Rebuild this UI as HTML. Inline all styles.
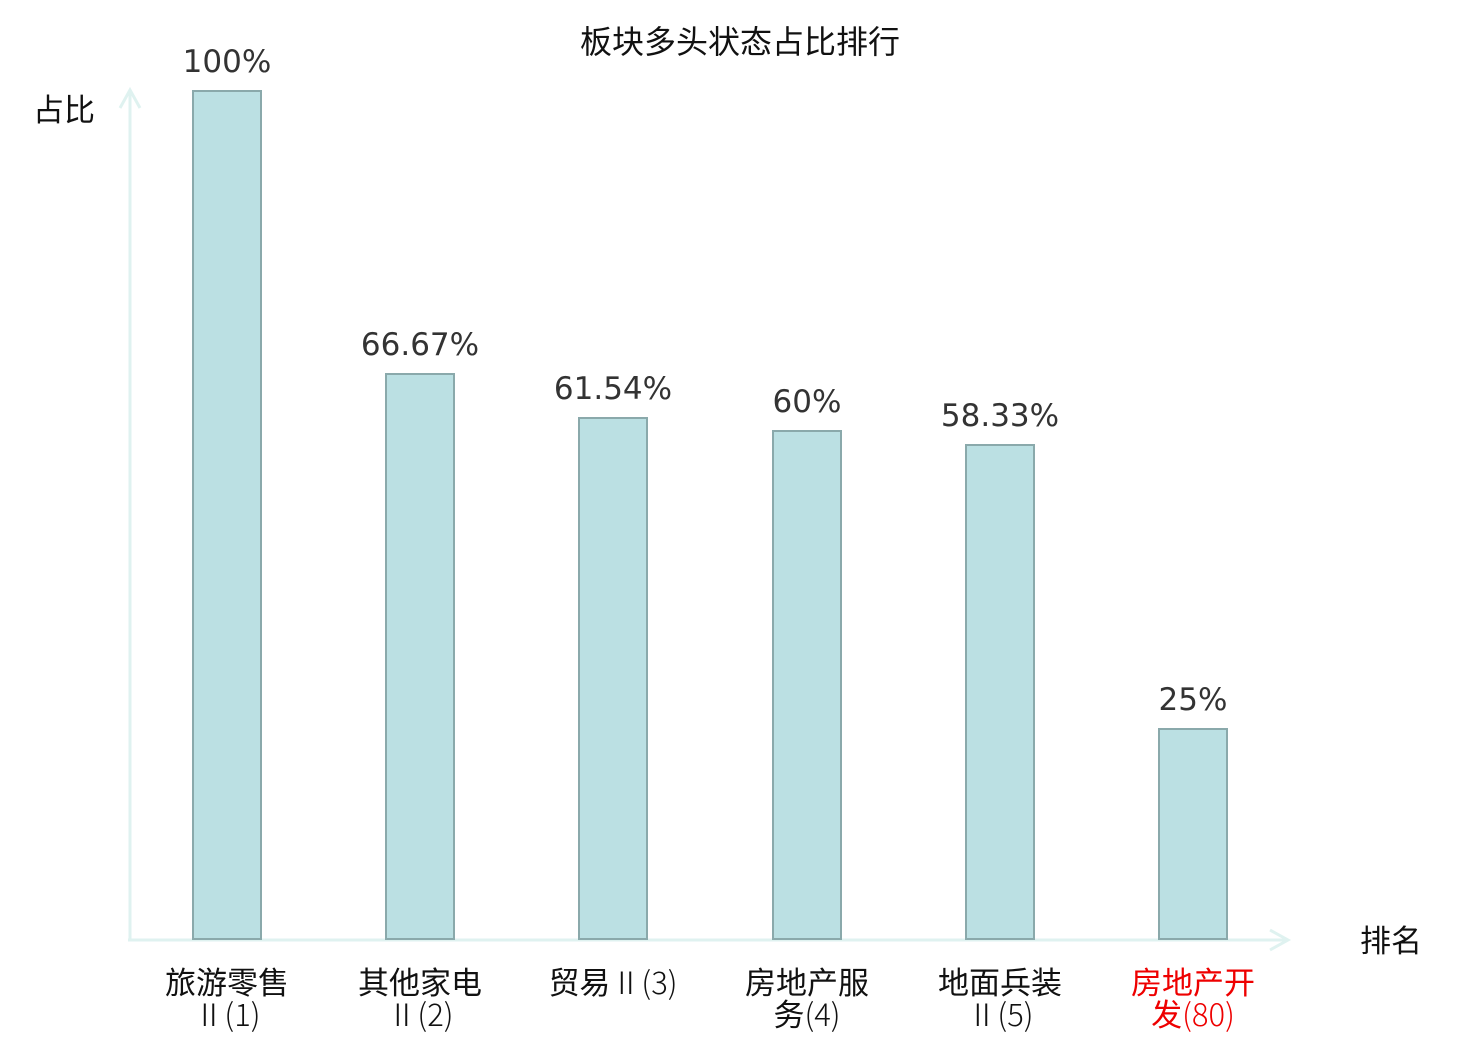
<!DOCTYPE html>
<html><head><meta charset="utf-8"><style>body{margin:0;background:#fff}</style></head><body>
<svg width="1480" height="1040" xmlns="http://www.w3.org/2000/svg" font-family="'DejaVu Sans','Noto Sans CJK SC',sans-serif">
<text x="740" y="53" font-size="32" text-anchor="middle" fill="#111">板块多头状态占比排行</text>
<text x="33" y="121" font-size="31" fill="#111">占比</text>
<text x="1360" y="952" font-size="31" fill="#111">排名</text>
<g stroke="#dff2f0" stroke-width="3" fill="none">
<line x1="130" y1="92" x2="130" y2="940"/>
<polyline points="120,108 130,90 140,108"/>
<line x1="128" y1="940" x2="1288" y2="940"/>
<polyline points="1270,930 1288,940 1270,950"/>
</g>
<g fill="#bbe0e3" stroke="#8aa9ab" stroke-width="2">
<rect x="193" y="91" width="68" height="848"/>
<rect x="386" y="374" width="68" height="565"/>
<rect x="579" y="418" width="68" height="521"/>
<rect x="773" y="431" width="68" height="508"/>
<rect x="966" y="445" width="68" height="494"/>
<rect x="1159" y="729" width="68" height="210"/>
</g>
<g font-size="31" fill="#333" text-anchor="middle">
<text x="227" y="72">100%</text>
<text x="420" y="355">66.67%</text>
<text x="613" y="399">61.54%</text>
<text x="807" y="412">60%</text>
<text x="1000" y="426">58.33%</text>
<text x="1193" y="710">25%</text>
</g>
<g font-size="31" fill="#111" text-anchor="middle" font-family="'Noto Sans CJK SC',sans-serif">
<text x="227" y="994">旅游零售</text><text x="227" y="1026" font-weight="300">Ⅱ(1)</text>
<text x="420" y="994">其他家电</text><text x="420" y="1026" font-weight="300">Ⅱ(2)</text>
<text x="613" y="994">贸易<tspan font-weight="300">Ⅱ(3)</tspan></text>
<text x="807" y="994">房地产服</text><text x="807" y="1026">务<tspan font-weight="300">(4)</tspan></text>
<text x="1000" y="994">地面兵装</text><text x="1000" y="1026" font-weight="300">Ⅱ(5)</text>
<text x="1193" y="994" fill="#e00">房地产开</text><text x="1193" y="1026" fill="#e00">发<tspan font-weight="300">(80)</tspan></text>
</g>
</svg>
</body></html>
